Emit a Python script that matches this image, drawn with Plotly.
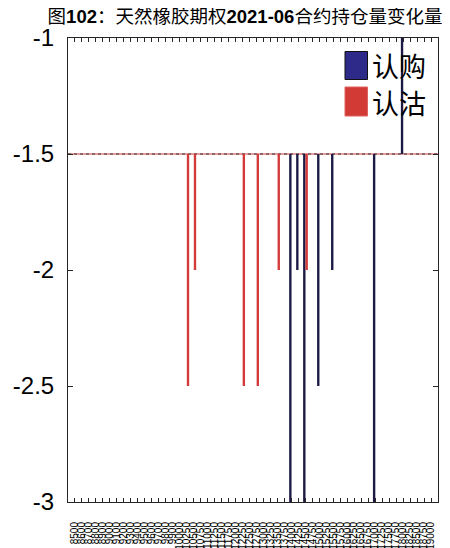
import plotly.graph_objects as go

# Tick labels (strike prices)
strikes = ["8500", "8600", "8700", "8800", "8900", "9000", "9100", "9200", "9300", "9400",
           "9500", "9600", "9700", "9800", "9900",
           "10000", "10250", "10500", "10750", "11000", "11250", "11500", "11750",
           "12000", "12250", "12500", "12750", "13000", "13250", "13500", "13750",
           "14000", "14250", "14500", "14750", "15000", "15250", "15500", "15750",
           "16000", "16250", "16500", "16750", "17000", "17250", "17500", "17750",
           "18000", "18250", "18500", "18750", "19000"]

# Series: 认购 (calls)
call_strikes = ["14000", "14250", "14500", "15000", "15500", "17000", "18000"]
call_values = [-3.6, -2.0, -3.6, -2.5, -2.0, -3.6, -0.4]

# Series: 认沽 (puts)
put_strikes = ["10250", "10500", "12250", "12750", "13500", "14500"]
put_values = [-2.5, -2.0, -2.5, -2.5, -2.0, -2.0]

base_value = -1.5
y_ticks = [-3, -2.5, -2, -1.5, -1]
y_tick_text = ["-3", "-2.5", "-2", "-1.5", "-1"]

call_color = "#1c1a45"
put_color = "#d43a3a"
legend_call_color = "#2d2a8a"
legend_put_color = "#d23a36"

# page body has an 8px margin: figure is placed at (8, 8) in the page
OFF = 8
W, H = 450 - OFF, 548 - OFF
L, R, T, B = 68 - OFF, 12, 38 - OFF, 46
pw, ph = W - L - R, H - T - B


def px(x):  # page pixel -> paper x
    return (x - OFF - L) / pw


def py(y):  # page pixel -> paper y
    return (H - B - (y - OFF)) / ph


fig = go.Figure()
fig.add_trace(go.Bar(
    x=call_strikes, y=[v - base_value for v in call_values], base=base_value,
    width=0.34, offset=-0.32, marker=dict(color=call_color, line=dict(width=0)),
    name="认购", showlegend=False))
fig.add_trace(go.Bar(
    x=put_strikes, y=[v - base_value for v in put_values], base=base_value,
    width=0.34, offset=0.02, marker=dict(color=put_color, line=dict(width=0)),
    name="认沽", showlegend=False))

# baseline
fig.add_shape(type="line", xref="paper", yref="y", x0=0, x1=1, y0=base_value, y1=base_value,
              line=dict(color=put_color, width=1), layer="below")
fig.add_shape(type="line", xref="paper", yref="y", x0=0, x1=1, y0=base_value, y1=base_value,
              line=dict(color="#333333", width=1, dash="dot"), layer="below")

# legend (drawn manually for the large swatches)
fig.add_shape(type="rect", xref="paper", yref="paper", x0=px(345), x1=px(367.5),
              y0=py(79.5), y1=py(51.5), fillcolor=legend_call_color,
              line=dict(color="#111111", width=1))
fig.add_shape(type="rect", xref="paper", yref="paper", x0=px(345), x1=px(367.5),
              y0=py(116), y1=py(87), fillcolor=legend_put_color,
              line=dict(color="#e06060", width=1))
for label, yc in [("认购", 66), ("认沽", 102)]:
    fig.add_annotation(text=label, xref="paper", yref="paper", x=px(370), y=py(yc),
                       xanchor="left", yanchor="middle", showarrow=False,
                       font=dict(family="Noto Sans CJK SC", size=27, color="#000000"))

fig.update_layout(
    width=W, height=H,
    margin=dict(l=L, r=R, t=T, b=B, pad=0),
    paper_bgcolor="white", plot_bgcolor="white",
    barmode="overlay",
    showlegend=False,
    title=dict(text="图<b>102</b>：天然橡胶期权<b>2021-06</b>合约持仓量变化量",
               x=(245 - OFF) / W, xanchor="center", y=1 - (17 - OFF) / H, yanchor="middle",
               font=dict(family="Liberation Sans, Noto Sans CJK SC", size=18.5, color="#000000")),
    font=dict(family="Liberation Sans, Noto Sans CJK SC", color="#000000"),
)
fig.update_xaxes(
    type="category", categoryorder="array", categoryarray=strikes,
    tickmode="array", tickvals=strikes, ticktext=strikes,
    range=[-1, len(strikes)],
    tickangle=-90, tickfont=dict(size=10, family="Liberation Sans", color="#000000"),
    ticks="inside", ticklen=4, tickcolor="#262626", tickwidth=1,
    ticklabelstandoff=15,
    showline=True, linecolor="#262626", linewidth=1, mirror="ticks",
    showgrid=False, zeroline=False, automargin=False,
)
fig.update_yaxes(
    range=[-3, -1], tickmode="array", tickvals=y_ticks, ticktext=y_tick_text,
    tickfont=dict(size=24, family="Liberation Sans", color="#000000"),
    ticks="inside", ticklen=5, tickcolor="#262626", tickwidth=1,
    ticklabelstandoff=8,
    showline=True, linecolor="#262626", linewidth=1, mirror="ticks",
    showgrid=False, zeroline=False, automargin=False,
)

fig.write_html("out.html")
